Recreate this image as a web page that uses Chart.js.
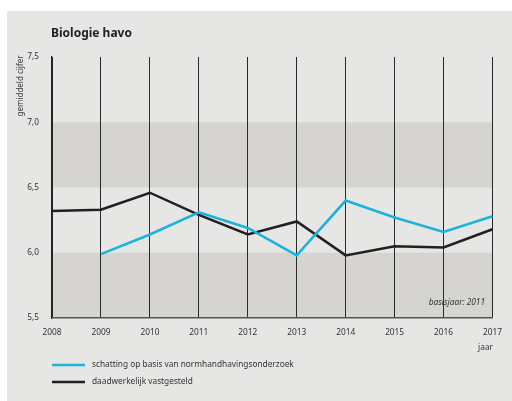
<!DOCTYPE html>
<html>
<head>
<meta charset="utf-8">
<script src="https://cdn.jsdelivr.net/npm/chart.js@4/dist/chart.umd.min.js"></script>
<style>
  html, body { margin: 0; padding: 0; background: #fff; overflow: hidden; }
  canvas { display: block; }
</style>
</head>
<body>
<canvas id="chart" width="512" height="401"></canvas>
<script>
// data
const years = ['2008', '2009', '2010', '2011', '2012', '2013', '2014', '2015', '2016', '2017'];
const schatting = [null, 5.99, 6.14, 6.31, 6.19, 5.98, 6.40, 6.27, 6.16, 6.28];
const vastgesteld = [6.32, 6.33, 6.46, 6.29, 6.14, 6.24, 5.98, 6.05, 6.04, 6.18];
const bands = [[6.5, 7.0], [5.5, 6.0]];

const FONT = "'Noto Sans', sans-serif";

const decor = {
  id: 'decor',
  beforeDraw(chart) {
    const ctx = chart.ctx;
    ctx.save();
    ctx.fillStyle = '#e6e6e4';
    ctx.fillRect(7, 11, 505, 390);
    const a = chart.chartArea, y = chart.scales.y;
    ctx.fillStyle = '#d5d4d0';
    bands.forEach(b => {
      const top = y.getPixelForValue(b[1]), bot = y.getPixelForValue(b[0]);
      ctx.fillRect(a.left, top, a.right - a.left, bot - top);
    });
    ctx.restore();
  },
  afterDraw(chart) {
    const ctx = chart.ctx;
    ctx.save();
    ctx.fillStyle = '#222';
    ctx.font = "bold 12px " + FONT;
    ctx.textBaseline = 'middle';
    ctx.fillText('Biologie havo', 51, 34);

    ctx.font = "8px " + FONT;
    ctx.fillStyle = '#333';
    ctx.save();
    ctx.translate(21, 86);
    ctx.rotate(-Math.PI / 2);
    ctx.textAlign = 'center';
    ctx.fillText('gemiddeld cijfer', 0, 0);
    ctx.restore();

    ctx.font = "italic 8.3px " + FONT;
    ctx.textAlign = 'right';
    ctx.fillText('basisjaar: 2011', 485, 303);

    ctx.font = "8.3px " + FONT;
    ctx.fillText('jaar', 493, 348);

    ctx.textAlign = 'left';
    chart.data.datasets.forEach((ds, i) => {
      const ly = 365 + i * 17;
      ctx.strokeStyle = ds.borderColor;
      ctx.lineWidth = 2.5;
      ctx.beginPath();
      ctx.moveTo(52, ly);
      ctx.lineTo(85, ly);
      ctx.stroke();
      ctx.fillStyle = '#333';
      ctx.fillText(ds.label, 92, ly);
    });
    ctx.restore();
  }
};

new Chart(document.getElementById('chart'), {
  type: 'line',
  data: {
    labels: years,
    datasets: [
      {
        label: 'schatting op basis van normhandhavingsonderzoek',
        data: schatting,
        borderColor: '#1ab2de',
        borderWidth: 2.5,
        pointRadius: 0,
        tension: 0,
        spanGaps: false
      },
      {
        label: 'daadwerkelijk vastgesteld',
        data: vastgesteld,
        borderColor: '#231f20',
        borderWidth: 2.5,
        pointRadius: 0,
        tension: 0
      }
    ]
  },
  options: {
    responsive: false,
    animation: false,
    layout: { padding: { top: 57, right: 18, left: 0, bottom: 0 } },
    plugins: { legend: { display: false }, tooltip: { enabled: false } },
    scales: {
      x: {
        grid: { color: '#2a2a2a', lineWidth: 1, drawTicks: false },
        border: { color: '#555', width: 1.5 },
        ticks: { color: '#333', font: { family: FONT, size: 8.3 }, padding: 10, maxRotation: 0, autoSkip: false },
        afterFit(s) { s.height = 83; }
      },
      y: {
        min: 5.5,
        max: 7.5,
        grid: { display: false },
        border: { color: '#222', width: 1.2 },
        ticks: {
          stepSize: 0.5,
          color: '#333',
          font: { family: FONT, size: 8.3 },
          padding: 5,
          callback: v => v.toFixed(1).replace('.', ',')
        },
        afterFit(s) { s.width = 52; }
      }
    }
  },
  plugins: [decor]
});
</script>
</body>
</html>
